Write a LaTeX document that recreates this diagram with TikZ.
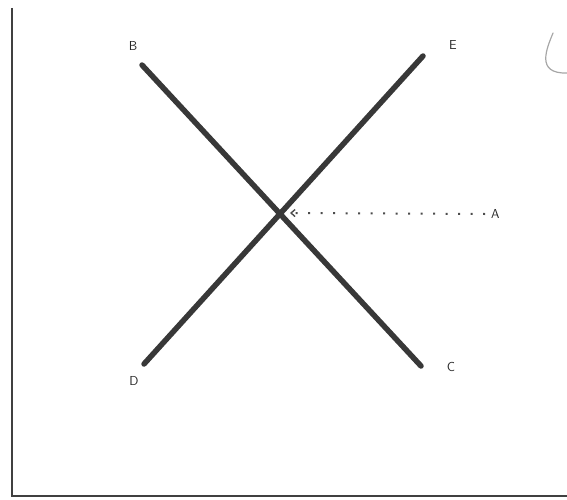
\documentclass[tikz,border=0pt]{standalone}
\usetikzlibrary{arrows.meta}
\begin{document}
\begin{tikzpicture}[x=1pt,y=-1pt,
  axisline/.style={line width=2pt,draw=black!75},
  curveline/.style={line width=5.5pt,draw=black!78,line cap=round},
  lbl/.style={font=\sffamily\fontsize{13}{14}\selectfont,text=black!85,inner sep=1pt},
  dotline/.style={line width=2pt,draw=black!70,dash pattern=on 2pt off 10.5pt,-{Straight Barb[length=4pt,width=7pt,line width=1.4pt]}}]
\useasboundingbox (0,0) rectangle (567,500);
% axes
\coordinate (top) at (12,8);
\coordinate (origin) at (12,496);
\coordinate (right) at (567,496);
\draw[axisline] (top) -- (origin) -- (right);
% lines
\coordinate (Bend) at (142,65);
\coordinate (Cend) at (421,366);
\coordinate (Dend) at (144,364);
\coordinate (Eend) at (423,56);
\draw[curveline] (Bend) -- (Cend);
\draw[curveline] (Dend) -- (Eend);
% labels
\node[lbl] (B) at (133,46) {B};
\node[lbl] (C) at (451,367) {C};
\node[lbl] (D) at (134,381) {D};
\node[lbl] (E) at (453,45) {E};
\node[lbl,anchor=west] (A) at (490,214) {A};
% dotted arrow
\coordinate (Xr) at (290,213);
\draw[dotline] (A.west) ++(-5,0) -- (Xr);
% stray hand stroke
\draw[black!35,line width=1.2pt,line cap=round] (553,33) .. controls (547,48) and (535,74) .. (567,73);
\end{tikzpicture}
\end{document}
